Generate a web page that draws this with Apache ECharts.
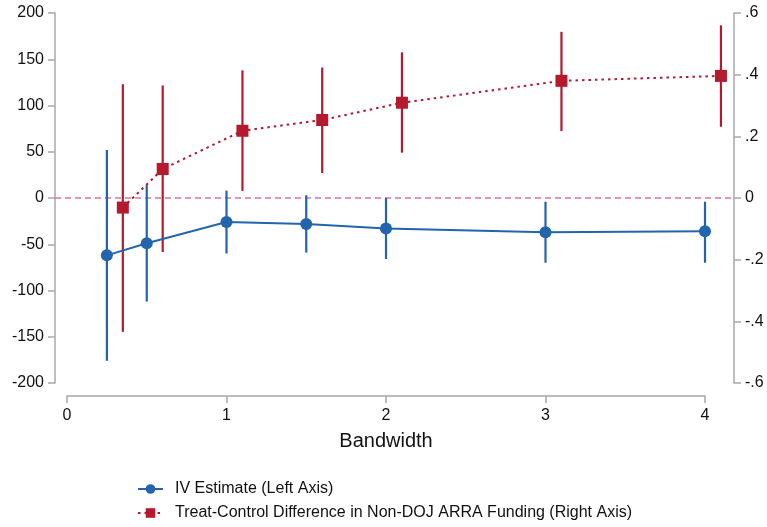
<!DOCTYPE html>
<html>
<head>
<meta charset="utf-8">
<script src="https://cdn.jsdelivr.net/npm/echarts@6/dist/echarts.min.js"></script>
<style>html,body{margin:0;padding:0;background:#fff}#c{width:767px;height:527px}</style>
</head>
<body>
<div id="c"></div>
<script>
// ---- data ----
var blueX  = [0.25, 0.5, 1, 1.5, 2, 3, 4];
var blueY  = [-62, -49, -26, -28, -33, -37, -36];
var blueLo = [-176, -112, -60, -59, -66, -70, -70];
var blueHi = [52, 14, 8, 3, 0, -4, -4];

var redX  = [0.35, 0.6, 1.1, 1.6, 2.1, 3.1, 4.1];
var redY  = [-0.031, 0.094, 0.218, 0.253, 0.309, 0.38, 0.396];
var redLo = [-0.434, -0.175, 0.023, 0.081, 0.147, 0.217, 0.231];
var redHi = [0.369, 0.365, 0.414, 0.423, 0.4725, 0.539, 0.56];

var xTicks = [0, 1, 2, 3, 4];
var leftTicks = [-200, 200, 50];
var rightTicks = [-0.6, 0.6, 0.2];

var blueName = 'IV Estimate (Left Axis)';
var redName = 'Treat-Control Difference in Non-DOJ ARRA Funding (Right Axis)';
var xName = 'Bandwidth';

var BLUE = '#2264ae', RED = '#b5192e', AXIS = '#a8a8a8', TXT = '#111';
var FONT = '"Liberation Sans", Arial, Helvetica, sans-serif';

function zip(a, b) { return a.map(function (v, i) { return [v, b[i]]; }); }
function zip3(a, b, c) { return a.map(function (v, i) { return [v, b[i], c[i]]; }); }

function errRender(color) {
  return function (params, api) {
    var p1 = api.coord([api.value(0), api.value(1)]);
    var p2 = api.coord([api.value(0), api.value(2)]);
    return { type: 'line', shape: { x1: p1[0], y1: p1[1], x2: p2[0], y2: p2[1] },
      style: { stroke: color, lineWidth: 2.2 } };
  };
}

function fmtRight(v) {
  var r = Math.round(v * 10) / 10;
  if (r === 0) return '0';
  var s = String(Math.abs(r)).replace(/^0/, '');
  return (r < 0 ? '-' : '') + s;
}

var chart = echarts.init(document.getElementById('c'), null, { renderer: 'canvas' });
var pxPerUnit = (705 - 67) / 4;
var xMin = -(67 - 55) / pxPerUnit;
var xMax = xMin + (767 - 55 - 33) / pxPerUnit;

chart.setOption({
  animation: false,
  textStyle: { fontFamily: FONT },
  grid: [
    { left: 55, right: 33, top: 13, bottom: 144 },
    { left: 67, right: 62, top: 13, bottom: 144 }
  ],
  xAxis: [
    { gridIndex: 0, type: 'value', min: xMin, max: xMax, show: false },
    { gridIndex: 1, type: 'value', min: xTicks[0], max: xTicks[xTicks.length - 1], interval: 1,
      offset: 13, position: 'bottom',
      axisLine: { show: true, onZero: false, lineStyle: { color: AXIS, width: 1.5 } },
      axisTick: { show: true, length: 7, lineStyle: { color: AXIS, width: 1.5 } },
      axisLabel: { color: TXT, fontSize: 16, margin: 12, fontFamily: FONT },
      splitLine: { show: false },
      name: xName, nameLocation: 'middle', nameGap: 35,
      nameTextStyle: { color: TXT, fontSize: 20, fontFamily: FONT } }
  ],
  yAxis: [
    { gridIndex: 0, type: 'value', position: 'left', min: leftTicks[0], max: leftTicks[1], interval: leftTicks[2],
      axisLine: { show: true, onZero: false, lineStyle: { color: AXIS, width: 1.5 } },
      axisTick: { show: true, length: 7, lineStyle: { color: AXIS, width: 1.5 } },
      axisLabel: { color: TXT, fontSize: 16, margin: 11, fontFamily: FONT },
      splitLine: { show: false } },
    { gridIndex: 0, type: 'value', position: 'right', min: rightTicks[0], max: rightTicks[1], interval: rightTicks[2],
      axisLine: { show: true, onZero: false, lineStyle: { color: AXIS, width: 1.5 } },
      axisTick: { show: true, length: 7, lineStyle: { color: AXIS, width: 1.5 } },
      axisLabel: { color: TXT, fontSize: 16, margin: 11, fontFamily: FONT, formatter: fmtRight },
      splitLine: { show: false } },
    { gridIndex: 1, type: 'value', show: false, min: -1, max: 1, axisLine: { onZero: false } }
  ],
  legend: {
    orient: 'vertical', left: 137, top: 481, itemGap: 8, padding: 0, height: 46,
    itemWidth: 25, itemHeight: 12,
    textStyle: { color: TXT, fontSize: 16, fontFamily: FONT, padding: [0, 0, 0, 7] },
    data: [blueName, redName]
  },
  series: [
    { type: 'custom', name: 'blueCI', xAxisIndex: 0, yAxisIndex: 0, z: 2,
      renderItem: errRender(BLUE), encode: { x: 0, y: [1, 2] },
      data: zip3(blueX, blueLo, blueHi), silent: true },
    { type: 'custom', name: 'redCI', xAxisIndex: 0, yAxisIndex: 1, z: 2,
      renderItem: errRender(RED), encode: { x: 0, y: [1, 2] },
      data: zip3(redX, redLo, redHi), silent: true },
    { type: 'line', name: redName, xAxisIndex: 0, yAxisIndex: 1, z: 3,
      data: zip(redX, redY), symbol: 'rect', symbolSize: 12,
      itemStyle: { color: RED },
      lineStyle: { color: RED, width: 2, type: [2.5, 4] } },
    { type: 'line', name: blueName, xAxisIndex: 0, yAxisIndex: 0, z: 4,
      data: zip(blueX, blueY), symbol: 'circle', symbolSize: 12,
      itemStyle: { color: BLUE },
      lineStyle: { color: BLUE, width: 2 },
      markLine: { silent: true, symbol: 'none', label: { show: false }, z: 1,
        lineStyle: { color: '#e070a8', width: 1.5, type: [6, 4] },
        data: [{ yAxis: 0 }] } }
  ]
});
</script>
</body>
</html>
